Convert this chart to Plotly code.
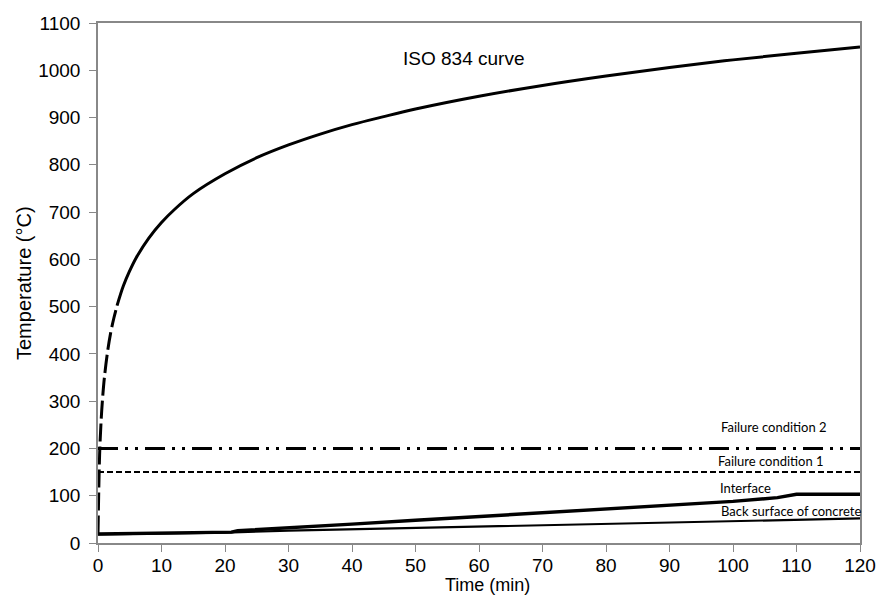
import plotly.graph_objects as go

# ISO 834 standard fire curve
iso_t_start = [0, 0.25, 0.5, 0.75, 1, 1.5, 2, 2.5, 3]
iso_T_start = [20, 185, 261, 311, 349, 404, 445, 476, 502]
iso_t = [3, 4, 5, 6, 8, 10, 12, 15, 20, 25, 30, 35, 40, 45, 50, 60, 70, 80, 90, 100, 110, 120]
iso_T = [502, 544, 576, 603, 645, 678, 705, 739, 781, 815, 842, 865, 885, 902, 918, 945, 968, 988, 1006, 1022, 1036, 1049]

# Failure criteria
fail2_t = [0, 120]
fail2_T = [200, 200]
fail1_t = [0, 120]
fail1_T = [150, 150]

# Interface temperature
intf_t = [0, 10, 20, 21, 22, 30, 40, 50, 60, 70, 80, 90, 100, 107, 110, 120]
intf_T = [19, 21, 22, 23, 26, 33, 40, 48, 56, 64, 72, 80, 88, 96, 103, 103]

# Back surface of concrete
back_t = [0, 10, 20, 30, 40, 50, 60, 70, 80, 90, 100, 110, 120]
back_T = [18, 20, 22, 26, 29, 32, 35, 38, 41, 44, 47, 50, 52]

x_ticks = [0, 10, 20, 30, 40, 50, 60, 70, 80, 90, 100, 110, 120]
y_ticks = [0, 100, 200, 300, 400, 500, 600, 700, 800, 900, 1000, 1100]

fig = go.Figure()
fig.add_trace(go.Scatter(x=fail2_t, y=fail2_T, mode="lines",
                         line=dict(color="black", width=3, dash="20px,7px,3px,7px,3px,7px")))
fig.add_trace(go.Scatter(x=fail1_t, y=fail1_T, mode="lines",
                         line=dict(color="black", width=2, dash="6px,3px")))
fig.add_trace(go.Scatter(x=back_t, y=back_T, mode="lines",
                         line=dict(color="black", width=2.2)))
fig.add_trace(go.Scatter(x=intf_t, y=intf_T, mode="lines",
                         line=dict(color="black", width=3.4)))
fig.add_trace(go.Scatter(x=iso_t_start, y=iso_T_start, mode="lines", line_shape="spline",
                         line=dict(color="black", width=3, dash="18px,5px")))
fig.add_trace(go.Scatter(x=iso_t, y=iso_T, mode="lines", line_shape="spline",
                         line=dict(color="black", width=3)))

fnt = "Liberation Sans, Arial, sans-serif"
lab = "Lato, sans-serif"
anns = [
    dict(x=57.5, y=1024, text="ISO 834 curve", font=dict(size=19, family=fnt, color="black")),
    dict(x=106.5, y=245, text="Failure condition 2", font=dict(size=13, family=lab, color="black")),
    dict(x=106, y=174, text="Failure condition 1", font=dict(size=13, family=lab, color="black")),
    dict(x=102, y=116, text="Interface", font=dict(size=13, family=lab, color="black")),
    dict(x=109.1, y=68, text="Back surface of concrete", font=dict(size=13, family=lab, color="black")),
]
for a in anns:
    fig.add_annotation(xref="x", yref="y", showarrow=False, xanchor="center", yanchor="middle", **a)

fig.add_annotation(xref="x", yref="paper", x=61.4, y=0, yshift=-42, showarrow=False,
                   text="Time (min)", font=dict(size=18, family=fnt, color="black"),
                   xanchor="center", yanchor="middle", borderpad=0)
fig.add_annotation(xref="paper", yref="paper", x=0, y=0.5, xshift=-74, showarrow=False,
                   text="Temperature (°C)", textangle=-90,
                   font=dict(size=20, family=fnt, color="black"),
                   xanchor="center", yanchor="middle")

fig.update_layout(
    width=888, height=596,
    margin=dict(l=98, r=28, t=23, b=53),
    paper_bgcolor="white", plot_bgcolor="white",
    showlegend=False,
    font=dict(family=fnt, size=19, color="black"),
)
fig.update_xaxes(range=[0, 120], tickvals=x_ticks, ticks="outside", ticklen=7, tickcolor="#888",
                 showline=True, linecolor="#888", linewidth=1.5, mirror=True, showgrid=False,
                 zeroline=False, ticklabelstandoff=-3,
                 tickfont=dict(size=19, family=fnt, color="black"))
fig.update_yaxes(range=[0, 1100], tickvals=y_ticks, ticks="outside", ticklen=7, tickcolor="#888",
                 showline=True, linecolor="#888", linewidth=1.5, mirror=True, showgrid=False,
                 zeroline=False, ticklabelstandoff=5,
                 tickfont=dict(size=19, family=fnt, color="black"))

fig.write_html("out.html")
